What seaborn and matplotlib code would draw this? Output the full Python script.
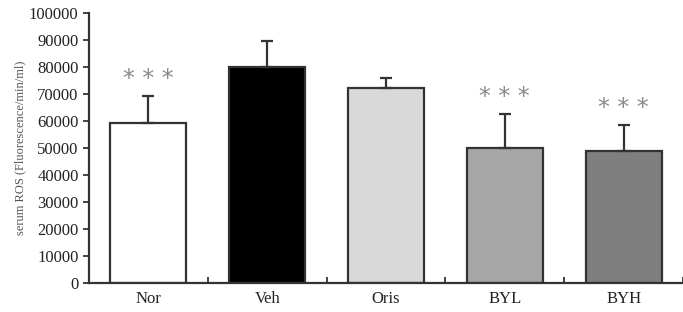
import pandas as pd
import matplotlib
matplotlib.use("Agg")
import matplotlib.pyplot as plt
import seaborn as sns

# data
groups = ["Nor", "Veh", "Oris", "BYL", "BYH"]
means = [59200, 80000, 72200, 49900, 48900]
sds = [10000, 9600, 3900, 12800, 9600]
stars = ["***", "", "", "***", "***"]
bar_colors = ["#ffffff", "#000000", "#d9d9d9", "#a6a6a6", "#7f7f7f"]

df = pd.DataFrame({"group": groups, "mean": means, "sd": sds})

sns.set_style("white")
plt.rcParams["font.family"] = ["Liberation Serif", "DejaVu Serif"]

fig = plt.figure(figsize=(6.83, 3.12), dpi=100)
ax = fig.add_axes([89 / 683, 29 / 312, 594 / 683, 270 / 312])

sns.barplot(data=df, x="group", y="mean", hue="group", palette=bar_colors,
            edgecolor="#333333", linewidth=1.6, width=0.64, legend=False, ax=ax)

# upward-only error bars
ax.errorbar(range(len(groups)), df["mean"], yerr=[[0] * len(groups), df["sd"]],
            fmt="none", ecolor="#333333", elinewidth=1.6, capsize=4, capthick=1.6)

# significance marks
for i, s in enumerate(stars):
    if s:
        ax.text(i, means[i] + sds[i] + 1800, " ".join(s), ha="center", va="bottom",
                fontsize=17, color="#8a8a8a", fontfamily="DejaVu Sans")

ax.set_ylim(0, 100000)
ax.set_xlim(-0.5, 4.5)
ax.set_yticks(range(0, 100001, 10000))
ax.set_yticklabels([str(v) for v in range(0, 100001, 10000)])
ax.set_xticks(range(len(groups)))
ax.set_xticks([i + 0.5 for i in range(len(groups))], minor=True)
ax.tick_params(axis="x", which="major", length=0, pad=6, labelsize=12, colors="#222222")
ax.tick_params(axis="x", which="minor", direction="in", length=4, width=1.3,
               color="#333333", bottom=True)
ax.tick_params(axis="y", direction="out", length=4, width=1.3, color="#333333",
               labelsize=12, labelcolor="#222222", left=True)
ax.set_xlabel("")
ax.set_ylabel("serum ROS (Fluorescence/min/ml)", fontsize=9, color="#555555", labelpad=2)

sns.despine(ax=ax)
for sp in ["left", "bottom"]:
    ax.spines[sp].set_color("#333333")
    ax.spines[sp].set_linewidth(1.6)

fig.savefig("out.png", dpi=100)
